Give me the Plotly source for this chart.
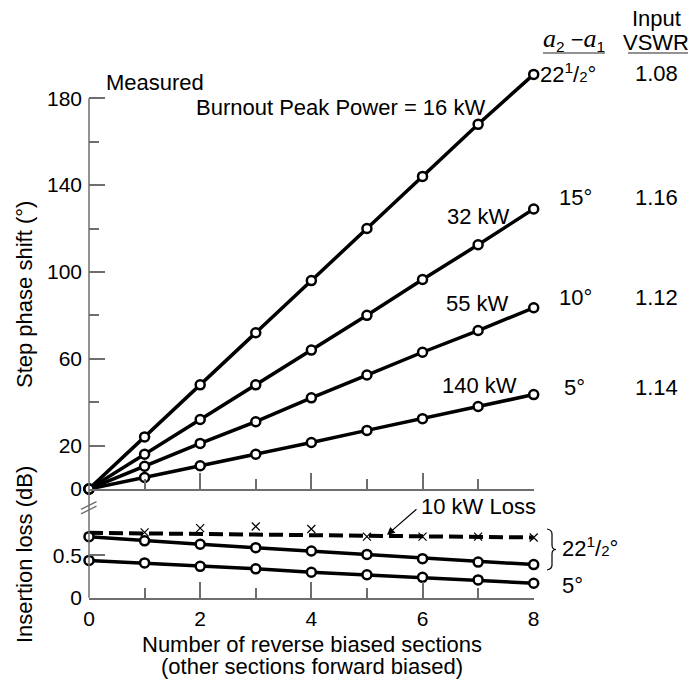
import plotly.graph_objects as go

# ---------------- data ----------------
sections = [0, 1, 2, 3, 4, 5, 6, 7, 8]
phase_22_5 = [0, 24, 48, 72, 96, 120, 144, 168, 191]
phase_15 = [0, 16, 32, 48, 64, 80, 96.5, 112.5, 129]
phase_10 = [0, 10.5, 21, 31, 42, 52.5, 63, 73, 83.5]
phase_5 = [0, 5.3, 10.7, 16, 21.4, 27, 32.4, 38, 43.5]

loss_22_5 = [0.72, 0.67, 0.63, 0.59, 0.55, 0.51, 0.46, 0.42, 0.39]
loss_5 = [0.44, 0.41, 0.37, 0.34, 0.30, 0.27, 0.24, 0.21, 0.17]
loss10kw_x = [0, 8]
loss10kw_y = [0.765, 0.71]
meas10kw_x = [1, 2, 3, 4, 5, 6, 7, 8]
meas10kw_y = [0.77, 0.82, 0.84, 0.81, 0.72, 0.72, 0.72, 0.71]

phase_ticks = [0, 20, 60, 100, 140, 180]
phase_minor = [40, 80, 120, 160]
loss_ticks = [0, 0.5]
x_ticks = [0, 2, 4, 6, 8]
x_minor = [1, 3, 5, 7]

# ---------------- layout helpers ----------------
W, H = 693, 679
FONT = "Liberation Sans"
FS = 21      # tick labels
FA = 22      # annotations / titles
AX = "#6e6e6e"


def px(x):
    return x / W


def py(y):
    return 1 - y / H


fig = go.Figure()

line_style = dict(color="black", width=3.5)
marker_style = dict(symbol="circle", size=9, color="white", line=dict(color="black", width=2.5))

for ys in [phase_22_5, phase_15, phase_10, phase_5]:
    fig.add_trace(go.Scatter(x=sections, y=ys, mode="lines+markers", line=line_style,
                             marker=marker_style, cliponaxis=False, xaxis="x", yaxis="y",
                             showlegend=False, hoverinfo="skip"))

fig.add_trace(go.Scatter(x=loss10kw_x, y=loss10kw_y, mode="lines",
                         line=dict(color="black", width=4, dash="14px,6px"),
                         xaxis="x2", yaxis="y2", showlegend=False, hoverinfo="skip"))
fig.add_trace(go.Scatter(x=meas10kw_x, y=meas10kw_y, mode="markers",
                         marker=dict(symbol="x-thin", size=8, line=dict(color="black", width=1.2)),
                         cliponaxis=False, xaxis="x2", yaxis="y2", showlegend=False, hoverinfo="skip"))
for ys in [loss_22_5, loss_5]:
    fig.add_trace(go.Scatter(x=sections, y=ys, mode="lines+markers", line=line_style,
                             marker=marker_style, cliponaxis=False, xaxis="x2", yaxis="y2",
                             showlegend=False, hoverinfo="skip"))

xdom = [px(89), px(533.7)]
tickfont = dict(family=FONT, size=FS, color="black")

common_x = dict(range=[0, 8], domain=xdom, showgrid=False, zeroline=False, showline=True,
                automargin=False,
                linecolor=AX, linewidth=1.5, ticks="inside", ticklen=16, tickwidth=1.5,
                tickcolor=AX, tickmode="array",
                minor=dict(tickmode="array", tickvals=x_minor, ticks="inside", ticklen=10,
                           tickwidth=1.5, tickcolor=AX, showgrid=False))

fig.update_layout(
    width=W, height=H, margin=dict(l=0, r=0, t=0, b=0, autoexpand=False),
    plot_bgcolor="white", paper_bgcolor="white",
    font=dict(family=FONT, size=FS, color="black"),
    xaxis=dict(common_x, anchor="y", tickvals=x_ticks, showticklabels=False),
    xaxis2=dict(common_x, anchor="y2", matches="x", tickvals=x_ticks,
                ticktext=[str(v) for v in x_ticks], tickfont=tickfont, ticklabelstandoff=1),
    yaxis=dict(domain=[py(489), py(59.2)], range=[0, 198], showgrid=False, zeroline=False,
               showline=False, automargin=False, ticks="inside", ticklen=16, tickwidth=1.5,
               tickcolor=AX, tickmode="array", tickvals=phase_ticks,
               ticktext=[str(v) for v in phase_ticks],
               tickfont=tickfont, anchor="x", ticklabelstandoff=6,
               minor=dict(tickmode="array", tickvals=phase_minor, ticks="inside", ticklen=10,
                          tickwidth=1.5, tickcolor=AX, showgrid=False)),
    yaxis2=dict(domain=[py(597.7), py(506.1)], range=[0, 1.08], showgrid=False, zeroline=False,
                showline=False, automargin=False, ticks="inside", ticklen=16, tickwidth=1.5,
                tickcolor=AX, tickmode="array", tickvals=loss_ticks, ticktext=["0", "0.5"],
                tickfont=tickfont, anchor="x2", ticklabelstandoff=6),
)

shapes = []
# continuous vertical axis line
shapes.append(dict(type="line", xref="paper", yref="paper", x0=px(89), x1=px(89),
                   y0=py(98.3), y1=py(597.7), line=dict(color=AX, width=1.5)))
# axis break marks
for dy in (0, 4.5):
    shapes.append(dict(type="line", xref="paper", yref="paper", x0=px(81), y0=py(509.3 + dy),
                       x1=px(96.5), y1=py(501.7 + dy), line=dict(color=AX, width=1.3)))
# underlines of column headings
shapes.append(dict(type="line", xref="paper", yref="paper", x0=px(543), x1=px(605),
                   y0=py(53), y1=py(53), line=dict(color=AX, width=1.5)))
shapes.append(dict(type="line", xref="paper", yref="paper", x0=px(628), x1=px(688),
                   y0=py(53), y1=py(53), line=dict(color=AX, width=1.5)))
# brace
bpts = [(547, 529), (552, 530), (552, 534), (552, 545), (552, 549.5), (556, 549.5),
        (552, 549.5), (552, 554), (552, 565), (552, 569), (547, 570)]


def P(p):
    return f"{px(p[0]):.5f},{py(p[1]):.5f}"


path = (f"M {P(bpts[0])} Q {P(bpts[1])} {P(bpts[2])} L {P(bpts[3])} Q {P(bpts[4])} {P(bpts[5])} "
        f"Q {P(bpts[6])} {P(bpts[7])} L {P(bpts[8])} Q {P(bpts[9])} {P(bpts[10])}")
shapes.append(dict(type="path", xref="paper", yref="paper", path=path,
                   line=dict(color="black", width=1.2)))
fig.update_layout(shapes=shapes)

half = "22<sup>1</sup>/<span style='font-size:15px'>2</span>°"
serif_a = "<span style='font-family:Liberation Serif;font-size:26px'><i>a</i></span>"


def txt(x, y, s, xa="center", size=FA, angle=0):
    fig.add_annotation(x=px(x), y=py(y), xref="paper", yref="paper", text=s, showarrow=False,
                       xanchor=xa, yanchor="middle", textangle=angle, borderpad=0,
                       font=dict(family=FONT, size=size, color="black"))


txt(105, 82, "Measured", "left")
txt(195, 107, "Burnout Peak Power = 16 kW", "left")
txt(446, 216, "32 kW", "left")
txt(445, 303, "55 kW", "left")
txt(441, 385, "140 kW", "left")
txt(656, 18, "Input")
txt(656, 42, "VSWR")
txt(574, 39, f"{serif_a}<sub>2</sub> −{serif_a}<sub>1</sub>")
txt(539, 73, half, "left")
txt(656, 73, "1.08")
txt(558, 197, "15°", "left")
txt(656, 197, "1.16")
txt(558, 297, "10°", "left")
txt(656, 297, "1.12")
txt(563, 387, "5°", "left")
txt(656, 387, "1.14")
txt(420, 506.5, "10 kW Loss", "left")
txt(561, 547, half, "left")
txt(561, 585, "5°", "left")
txt(24, 295, "Step phase shift (°)", angle=-90)
txt(24, 555, "Insertion loss (dB)", angle=-90)
txt(312, 644, "Number of reverse biased sections")
txt(312, 666, "(other sections forward biased)")

# arrow pointing to the 10 kW loss line
fig.add_annotation(x=5.36, y=0.74, xref="x2", yref="y2", text="", showarrow=True,
                   ax=31, ay=-27, arrowhead=2, arrowsize=1.3, arrowwidth=1.2, arrowcolor="black")

fig.write_html("out.html")
